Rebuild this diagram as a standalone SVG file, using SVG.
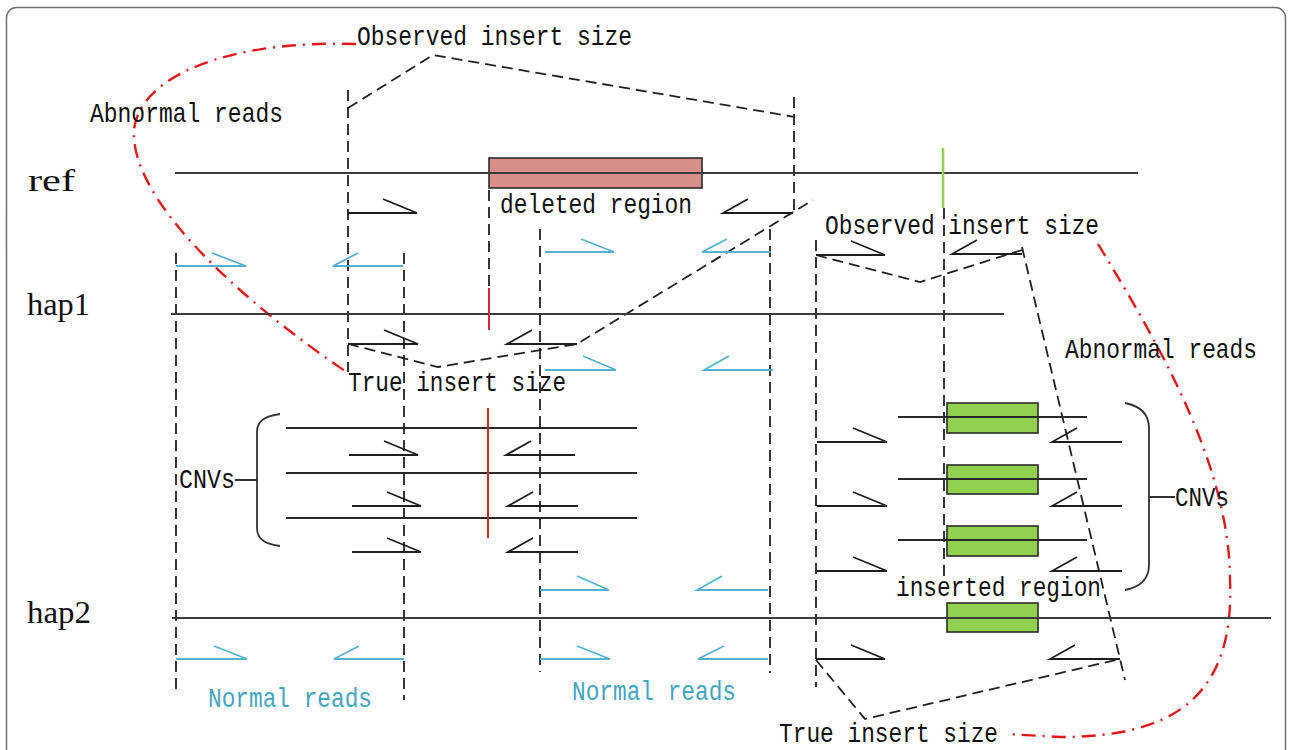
<svg xmlns="http://www.w3.org/2000/svg" width="1292" height="750" viewBox="0 0 1292 750">
  <style>
    .trk{stroke:#3c3c3c;stroke-width:2;fill:none}
    .cnv{stroke:#2a2a2a;stroke-width:2;fill:none}
    .rd{fill:none;stroke:#1e1e1e;stroke-width:1.8}
    .nr{fill:none;stroke:#55b2cf;stroke-width:1.8}
    .dsh{fill:none;stroke:#222;stroke-width:1.8;stroke-dasharray:11 6}
    .dd{fill:none;stroke:#e0191c;stroke-width:2.4;stroke-dasharray:14 7 2 7}
    .lbl{font-family:"Liberation Mono",monospace;font-size:28px;fill:#111}
    .nlbl{fill:#45a5c1}
    .trk-lbl{font-family:"Liberation Serif","Times New Roman",serif;font-size:31px;fill:#111}
    .del{fill:#d88f8b;stroke:#2b2b2b;stroke-width:1.6}
    .ins{fill:#92d050;stroke:#2b2b2b;stroke-width:1.6}
    .brace{fill:none;stroke:#333;stroke-width:1.8}
    .mark-red{stroke:#d02a2a;stroke-width:2}
    .mark-green{stroke:#8fd14f;stroke-width:2.5}
  </style>

  <rect x="0" y="0" width="1292" height="750" fill="#fff"/>
  <rect x="6.5" y="7.5" width="1279" height="780" rx="10" fill="#fff" stroke="#6f6f6f" stroke-width="1.5"/>

  <!-- dashed guides and insert-size spans -->
  <g id="connectors">
    <path class="dsh" d="M348,90 V372"/>
    <path class="dsh" d="M794,97 V213"/>
    <path class="dsh" d="M348,108 L433,55 L795,117"/>
    <path class="dsh" d="M489,190 V287"/>
    <path class="dsh" d="M540,229 V672"/>
    <path class="dsh" d="M404,253 V700"/>
    <path class="dsh" d="M176,253 V693"/>
    <path class="dsh" d="M770,229 V673"/>
    <path class="dsh" d="M816,240 V687"/>
    <path class="dsh" d="M944,208 V578"/>
    <path class="dsh" d="M348,344 L438,367 L577,344 L813,200"/>
    <path class="dsh" d="M816,255 L920,282 L1022,250"/>
    <path class="dsh" d="M1022,247 L1125,680"/>
    <path class="dsh" d="M816,660 L865,719 L1120,659"/>
    <!-- abnormal-read callouts -->
    <path class="dd" d="M356,44 C230,40 140,75 134,130 C130,200 240,300 348,373"/>
    <path class="dd" d="M1098,244 C1150,330 1230,460 1230,580 C1235,700 1170,737 1060,737 L1006,734"/>
  </g>

  <!-- deleted region on the reference -->
  <g id="deleted-region">
    <rect class="del" x="489" y="158" width="213" height="30"/>
  </g>

  <!-- inserted copies -->
  <g id="inserted-regions">
    <rect class="ins" x="947" y="403" width="91" height="30"/>
    <rect class="ins" x="947" y="465" width="91" height="29"/>
    <rect class="ins" x="947" y="526" width="91" height="30"/>
    <rect class="ins" x="947" y="603" width="91" height="29"/>
  </g>

  <!-- sequence tracks -->
  <g id="tracks">
    <path class="trk" d="M175,173 H1138"/>
    <path class="trk" d="M171,314 H1004"/>
    <path class="trk" d="M172,618 H1271"/>
  </g>

  <!-- copy-number variant lines -->
  <g id="cnv-left">
    <path class="cnv" d="M286,428 H637 M286,473 H637 M286,518 H637"/>
    <path class="brace" d="M280,414 C266,416 257,420 257,432 V528 C257,540 266,544 280,546 M257,480 H235"/>
  </g>
  <g id="cnv-right">
    <path class="cnv" d="M898,417 H1087 M898,479 H1087 M898,540 H1087"/>
    <path class="brace" d="M1125,403 C1140,406 1149,414 1149,428 V565 C1149,580 1140,587 1125,590 M1149,497 H1175"/>
  </g>

  <!-- breakpoint marks -->
  <g id="breakpoints">
    <path class="mark-red" d="M489,288 V330"/>
    <path class="mark-red" d="M488,408 V538"/>
    <path class="mark-green" d="M943,148 V208"/>
  </g>

  <!-- paired reads: forward = tail barb on the right, reverse = barb on the left -->
  <g id="abnormal-reads">
    <path class="rd" d="M348,213 H417 L383,199"/>
    <path class="rd" d="M793,213 H723 L748,199"/>
    <path class="rd" d="M348,344 H418 L384,330"/>
    <path class="rd" d="M577,344 H507 L532,330"/>
    <path class="rd" d="M349,455 H418 L384,441"/>
    <path class="rd" d="M575,455 H506 L531,441"/>
    <path class="rd" d="M352,506 H421 L387,492"/>
    <path class="rd" d="M578,506 H508 L533,492"/>
    <path class="rd" d="M352,552 H421 L387,538"/>
    <path class="rd" d="M578,552 H508 L533,538"/>
    <path class="rd" d="M816,255 H885 L851,241"/>
    <path class="rd" d="M1022,254 H952 L977,240"/>
    <path class="rd" d="M817,442 H887 L853,428"/>
    <path class="rd" d="M1122,442 H1052 L1077,428"/>
    <path class="rd" d="M817,506 H887 L853,492"/>
    <path class="rd" d="M1122,506 H1052 L1077,492"/>
    <path class="rd" d="M817,571 H887 L853,557"/>
    <path class="rd" d="M1122,571 H1052 L1077,557"/>
    <path class="rd" d="M816,659 H885 L851,645"/>
    <path class="rd" d="M1120,659 H1050 L1075,645"/>
  </g>
  <g id="normal-reads">
    <path class="nr" d="M176,266 H246 L212,253"/>
    <path class="nr" d="M403,266 H333 L358,253"/>
    <path class="nr" d="M545,252 H614 L581,239"/>
    <path class="nr" d="M771,252 H702 L727,239"/>
    <path class="nr" d="M545,370 H616 L583,356"/>
    <path class="nr" d="M773,370 H704 L729,356"/>
    <path class="nr" d="M540,590 H609 L577,576"/>
    <path class="nr" d="M768,590 H697 L722,576"/>
    <path class="nr" d="M176,659 H247 L214,646"/>
    <path class="nr" d="M404,659 H334 L359,646"/>
    <path class="nr" d="M540,659 H610 L577,646"/>
    <path class="nr" d="M768,659 H698 L724,646"/>
  </g>

  <!-- labels -->
  <g id="labels">
    <text class="trk-lbl" x="28" y="191" textLength="47" lengthAdjust="spacingAndGlyphs">ref</text>
    <text class="trk-lbl" x="27" y="315" textLength="63" lengthAdjust="spacingAndGlyphs">hap1</text>
    <text class="trk-lbl" x="27" y="623" textLength="64" lengthAdjust="spacingAndGlyphs">hap2</text>
    <text class="lbl" x="357" y="45" textLength="275" lengthAdjust="spacingAndGlyphs">Observed insert size</text>
    <text class="lbl" x="90" y="122" textLength="193" lengthAdjust="spacingAndGlyphs">Abnormal reads</text>
    <text class="lbl" x="500" y="213" textLength="192" lengthAdjust="spacingAndGlyphs">deleted region</text>
    <text class="lbl" x="825" y="234" textLength="274" lengthAdjust="spacingAndGlyphs">Observed insert size</text>
    <text class="lbl" x="1065" y="358" textLength="192" lengthAdjust="spacingAndGlyphs">Abnormal reads</text>
    <text class="lbl" x="348" y="391" textLength="218" lengthAdjust="spacingAndGlyphs">True insert size</text>
    <text class="lbl" x="179" y="488" textLength="56" lengthAdjust="spacingAndGlyphs">CNVs</text>
    <text class="lbl" x="1175" y="506" textLength="54" lengthAdjust="spacingAndGlyphs">CNVs</text>
    <text class="lbl" x="896" y="596" textLength="205" lengthAdjust="spacingAndGlyphs">inserted region</text>
    <text class="lbl nlbl" x="208" y="707" textLength="164" lengthAdjust="spacingAndGlyphs">Normal reads</text>
    <text class="lbl nlbl" x="572" y="700" textLength="164" lengthAdjust="spacingAndGlyphs">Normal reads</text>
    <text class="lbl" x="779" y="742" textLength="219" lengthAdjust="spacingAndGlyphs">True insert size</text>
  </g>
</svg>
